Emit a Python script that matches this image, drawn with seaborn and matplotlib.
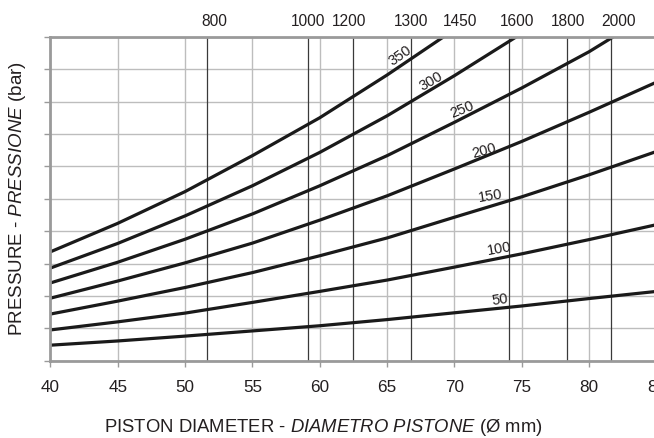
import matplotlib
matplotlib.use("Agg")
import matplotlib.pyplot as plt
import seaborn as sns
import pandas as pd

# ---------------- data ----------------
diameters = [40, 45, 50, 55, 60, 65, 70, 75, 80, 85]

x_350 = [40, 45, 50, 55, 60, 65, 69.2]
y_350 = [3.36, 4.24, 5.22, 6.33, 7.50, 8.82, 10.0]
x_300 = [40, 45, 50, 55, 60, 65, 70, 74.6]
y_300 = [2.86, 3.62, 4.47, 5.40, 6.43, 7.56, 8.80, 10.0]
x_250 = [40, 45, 50, 55, 60, 65, 70, 75, 80, 81.8]
y_250 = [2.40, 3.04, 3.75, 4.53, 5.40, 6.33, 7.36, 8.42, 9.54, 10.0]
y_200 = [1.93, 2.46, 3.02, 3.63, 4.34, 5.09, 5.92, 6.77, 7.67, 8.60]
y_150 = [1.44, 1.84, 2.26, 2.72, 3.24, 3.79, 4.43, 5.06, 5.74, 6.46]
y_100 = [0.95, 1.20, 1.47, 1.80, 2.14, 2.49, 2.89, 3.30, 3.74, 4.20]
y_50 = [0.48, 0.61, 0.76, 0.92, 1.08, 1.27, 1.48, 1.69, 1.92, 2.14]

pressures = [50, 100, 150, 200, 250, 300, 350]
curve_x = {50: diameters, 100: diameters, 150: diameters, 200: diameters,
           250: x_250, 300: x_300, 350: x_350}
curve_y = {50: y_50, 100: y_100, 150: y_150, 200: y_200,
           250: y_250, 300: y_300, 350: y_350}

# curve labels: position (diameter, y) and angle
label_x = [73.4, 73.3, 72.7, 72.2, 70.6, 68.3, 66.0]
label_y = [1.92, 3.47, 5.10, 6.52, 7.79, 8.65, 9.45]
label_rot = [8, 10, 9, 15, 22, 30, 35]

# reference verticals with their top labels
ref_lines = [51.6, 59.15, 62.5, 66.8, 74.08, 78.38, 81.6]
top_labels = ["800", "1000", "1200", "1300", "1450", "1600", "1800", "2000"]
top_label_x = [52.2, 59.1, 62.2, 66.8, 70.4, 74.65, 78.4, 82.2]

x_ticks = [40, 45, 50, 55, 60, 65, 70, 75, 80, 85]
y_ticks = list(range(0, 11))

# ---------------- build long-form table ----------------
rows = []
for p in pressures:
    for xv, yv in zip(curve_x[p], curve_y[p]):
        rows.append({"diameter": xv, "value": yv, "pressure": p})
df = pd.DataFrame(rows)

# ---------------- style ----------------
sns.set_theme(style="white")
plt.rcParams["font.family"] = ["Liberation Sans", "DejaVu Sans"]
plt.rcParams["mathtext.fontset"] = "custom"
plt.rcParams["mathtext.rm"] = "Liberation Sans"
plt.rcParams["mathtext.it"] = "Liberation Sans:italic"

TXT = "#231f20"
SPINE = "#9a9a9a"
GRID = "#bdbdbd"
DARK = "#3a3a3a"

fig = plt.figure(figsize=(6.54, 4.39), dpi=100)
ax = fig.add_axes([0.0769, 0.176, 0.927, 0.738])

sns.lineplot(data=df, x="diameter", y="value", hue="pressure",
             palette={p: "#1a1a1a" for p in pressures}, linewidth=2.3,
             legend=False, ax=ax, estimator=None, sort=False, zorder=5,
             solid_capstyle="butt", solid_joinstyle="round")

ax.set_xlim(40, 85)
ax.set_ylim(0, 10)
ax.set_xticks(x_ticks)
ax.set_yticks(y_ticks)
ax.set_yticklabels([])
ax.set_xticklabels([str(t) for t in x_ticks])
ax.grid(True, color=GRID, linewidth=1.0)
ax.set_axisbelow(True)

for xv in ref_lines:
    ax.axvline(xv, color=DARK, linewidth=0.9, zorder=3)

for sp in ["left", "top", "bottom"]:
    ax.spines[sp].set_color(SPINE)
    ax.spines[sp].set_linewidth(2.0)
    ax.spines[sp].set_zorder(6)
ax.spines["right"].set_visible(False)

ax.tick_params(axis="both", which="both", direction="out", length=4,
               width=1.0, color=SPINE, labelcolor=TXT, labelsize=12.3)
ax.tick_params(axis="x", pad=9, bottom=True)
ax.tick_params(axis="y", left=True)

ax.set_xlabel("")
ax.set_ylabel("")

for p, lx, ly, lr in zip(pressures, label_x, label_y, label_rot):
    ax.text(lx, ly, str(p), rotation=lr, ha="center", va="center",
            fontsize=10.5, color=TXT, rotation_mode="anchor", zorder=7)

for t, tx in zip(top_labels, top_label_x):
    ax.text(tx, 1.0515, t, transform=ax.get_xaxis_transform(), ha="center",
            va="center", fontsize=11.2, color=TXT, clip_on=False)

fig.text(0.495, 0.026, r"PISTON DIAMETER - $\mathit{DIAMETRO\ PISTONE}$ (Ø mm)",
         ha="center", va="center", fontsize=13.3, color=TXT)
fig.text(0.026, 0.547, r"PRESSURE - $\mathit{PRESSIONE}$ (bar)",
         ha="center", va="center", rotation=90, fontsize=13.5, color=TXT)

fig.savefig("out.png", dpi=100)
